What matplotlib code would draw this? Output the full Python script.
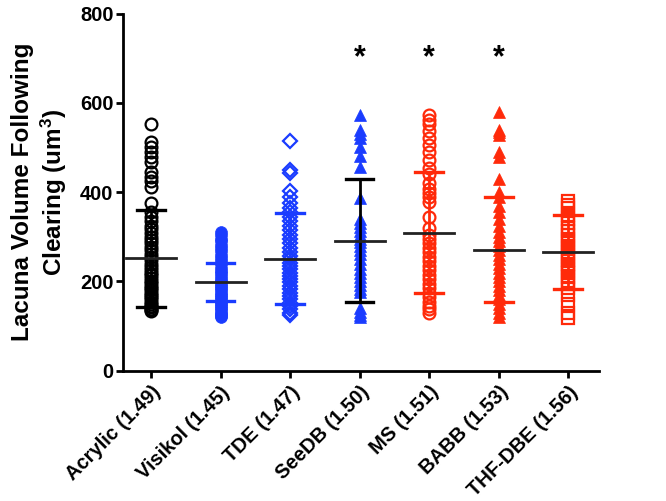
import matplotlib
matplotlib.use('Agg')
import matplotlib.pyplot as plt
import numpy as np

plt.rcParams['font.family'] = ['Liberation Sans', 'DejaVu Sans']
plt.rcParams['font.weight'] = 'bold'
plt.rcParams['mathtext.fontset'] = 'custom'
plt.rcParams['mathtext.bf'] = 'Liberation Sans:bold'
plt.rcParams['mathtext.rm'] = 'Liberation Sans:bold'

labels = ['Acrylic (1.49)', 'Visikol (1.45)', 'TDE (1.47)', 'SeeDB (1.50)',
          'MS (1.51)', 'BABB (1.53)', 'THF-DBE (1.56)']

acrylic = [552, 513, 502, 491, 479, 468, 446, 435, 424, 412, 375, 355, 345, 335,
           325, 318, 308, 300, 292, 285, 278, 270, 262, 255, 248, 240, 232, 225,
           220, 214, 208, 202, 196, 190, 185, 180, 175, 170, 165, 160, 155, 150,
           146, 142, 138, 135, 133]
visikol = [310, 303, 296, 290, 282, 275, 268, 260, 252, 245, 238, 230, 224, 218,
           212, 206, 200, 195, 190, 185, 180, 175, 170, 165, 160, 155, 150, 145,
           140, 135, 130, 126, 122, 120]
tde = [514, 450, 443, 402, 388, 375, 365, 355, 345, 335, 325, 315, 305, 295, 285,
       275, 265, 258, 250, 242, 235, 228, 220, 212, 205, 198, 190, 182, 175, 168,
       160, 152, 145, 138, 130, 125]
seedb = [572, 540, 530, 521, 502, 480, 456, 386, 340, 330, 322, 314, 305, 296,
         288, 280, 270, 262, 250, 238, 228, 218, 210, 200, 192, 184, 176, 140,
         132, 125, 121]
ms = [572, 562, 552, 538, 521, 505, 491, 472, 455, 440, 420, 408, 398, 388, 378,
      345, 320, 305, 295, 285, 275, 265, 255, 245, 235, 225, 215, 205, 195, 185,
      175, 165, 155, 145, 138, 130]
babb = [580, 540, 534, 528, 491, 479, 429, 400, 388, 370, 355, 340, 325, 310, 300,
        290, 280, 270, 260, 250, 240, 230, 220, 210, 200, 190, 180, 170, 160, 150,
        140, 130, 121]
thf_dbe = [380, 372, 365, 348, 340, 330, 320, 312, 304, 296, 288, 280, 272, 264,
           256, 248, 240, 232, 225, 218, 210, 202, 194, 185, 170, 150, 130, 118]

means = [252, 199, 250, 291, 309, 271, 265]
sd_upper = [360, 241, 353, 429, 446, 388, 349]
sd_lower = [142, 157, 150, 155, 174, 155, 183]
significant = [False, False, False, True, True, True, False]

groups = [acrylic, visikol, tde, seedb, ms, babb, thf_dbe]
markers = ['o', 'o', 'D', '^', 'o', '^', 's']
filled = [False, True, False, True, False, True, False]
colors = ['black', '#1a3cff', '#1a3cff', '#1a3cff', '#ff2a0a', '#ff2a0a', '#ff2a0a']
bar_colors = ['black', '#1a3cff', '#1a3cff', 'black', '#ff2a0a', '#ff2a0a', '#ff2a0a']
msizes = [8.5, 8.5, 7, 8.5, 8.5, 8.5, 8]

fig = plt.figure(figsize=(6.66, 5.01), dpi=100)
ax = fig.add_axes([0.185, 0.26, 0.715, 0.713])

for i, vals in enumerate(groups):
    x = np.full(len(vals), i)
    if filled[i]:
        ax.plot(x, vals, linestyle='none', marker=markers[i], markersize=msizes[i],
                color=colors[i], markeredgewidth=0.5, zorder=2)
    else:
        ax.plot(x, vals, linestyle='none', marker=markers[i], markersize=msizes[i],
                markerfacecolor='none', markeredgecolor=colors[i],
                markeredgewidth=1.6, zorder=2)
    ax.plot([i, i], [sd_lower[i], sd_upper[i]], color=bar_colors[i], lw=2, zorder=3)
    for y in (sd_lower[i], sd_upper[i]):
        ax.plot([i - 0.2, i + 0.2], [y, y], color=bar_colors[i], lw=2.4, zorder=3)
    ax.plot([i - 0.36, i + 0.36], [means[i], means[i]], color='#222222', lw=2, zorder=4)
    if significant[i]:
        ax.text(i, 700, '*', ha='center', va='center', fontsize=22, fontweight='bold')

ax.set_xlim(-0.4, 6.45)
ax.set_ylim(0, 800)
ax.set_yticks([0, 200, 400, 600, 800])
ax.set_xticks(range(len(labels)))
ax.set_xticklabels(labels, rotation=45, ha='right', rotation_mode='anchor',
                   fontsize=14.5, fontweight='bold')
ax.tick_params(axis='y', labelsize=14.5, width=2, length=5, pad=2)
ax.tick_params(axis='x', width=2, length=5)
for lab in ax.get_yticklabels():
    lab.set_fontweight('bold')
for s in ['top', 'right']:
    ax.spines[s].set_visible(False)
for s in ['left', 'bottom']:
    ax.spines[s].set_linewidth(2)
ax.set_ylabel('Lacuna Volume Following\nClearing (um$\\mathbf{^3}$)', fontsize=17.5,
              fontweight='bold', labelpad=8)

fig.savefig('out.png', dpi=100)
